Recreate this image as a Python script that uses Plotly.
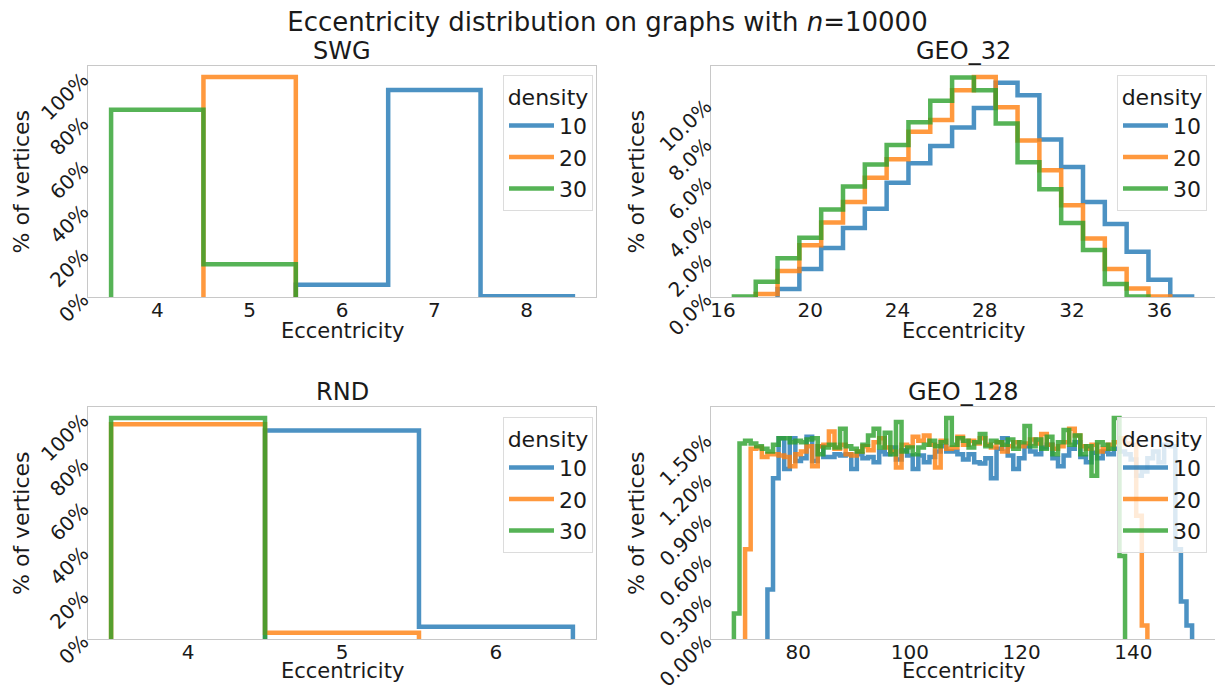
import plotly.graph_objects as go

W, H = 1215, 689

# ---------------- data (percent of vertices per eccentricity) ----------------
densities = ["10", "20", "30"]
colors = ["rgba(31,119,180,0.8)", "rgba(255,127,14,0.8)", "rgba(44,160,44,0.8)"]

# SWG
swg_ecc_10 = [6, 7, 8]
swg_pct_10 = [5.6, 94.1, 0.3]
swg_ecc_20 = [5]
swg_pct_20 = [100.0]
swg_ecc_30 = [4, 5]
swg_pct_30 = [85.1, 14.9]

# RND
rnd_ecc_10 = [5, 6]
rnd_pct_10 = [94.4, 5.6]
rnd_ecc_20 = [4, 5]
rnd_pct_20 = [97.2, 2.8]
rnd_ecc_30 = [4]
rnd_pct_30 = [100.0]

# GEO_32
geo32_ecc_10 = list(range(19, 38))
geo32_pct_10 = [0.41, 1.45, 2.53, 3.57, 4.56, 5.91, 6.92, 7.81, 8.77, 9.78,
                11.08, 10.44, 8.15, 6.72, 4.91, 3.78, 2.34, 0.89, 0.03]
geo32_ecc_20 = list(range(18, 37))
geo32_pct_20 = [0.15, 1.35, 2.68, 3.86, 4.91, 6.17, 7.13, 8.55, 9.16, 10.70,
                11.38, 9.81, 8.10, 6.56, 4.75, 3.03, 1.45, 0.44, 0.03]
geo32_ecc_30 = list(range(17, 36))
geo32_pct_30 = [0.02, 0.79, 2.00, 3.06, 4.53, 5.71, 6.85, 7.86, 9.04, 10.15,
                11.35, 10.70, 8.97, 6.97, 5.57, 3.83, 2.43, 0.67, 0.03]

# GEO_128
geo128_ecc_10 = list(range(75, 151))
geo128_pct_10 = [0.37, 1.20, 1.50, 1.27, 1.50, 1.33, 1.35, 1.51, 1.33, 1.44,
                 1.36, 1.36, 1.38, 1.37, 1.38, 1.27, 1.38, 1.35, 1.36, 1.32,
                 1.40, 1.38, 1.43, 1.34, 1.41, 1.37, 1.27, 1.37, 1.32, 1.36,
                 1.40, 1.44, 1.40, 1.40, 1.38, 1.34, 1.38, 1.32, 1.31, 1.35,
                 1.20, 1.42, 1.50, 1.37, 1.27, 1.35, 1.44, 1.40, 1.38, 1.43,
                 1.45, 1.35, 1.29, 1.37, 1.42, 1.47, 1.36, 1.32, 1.39, 1.35,
                 1.40, 1.38, 1.42, 1.40, 1.38, 1.34, 1.22, 1.25, 1.35, 1.40,
                 1.32, 1.45, 1.44, 0.67, 0.28, 0.10]
geo128_ecc_20 = list(range(71, 143))
geo128_pct_20 = [0.67, 1.42, 1.43, 1.36, 1.38, 1.38, 1.37, 1.36, 1.29, 1.38,
                 1.40, 1.44, 1.29, 1.44, 1.45, 1.55, 1.42, 1.45, 1.38, 1.37,
                 1.40, 1.44, 1.41, 1.47, 1.50, 1.43, 1.40, 1.28, 1.45, 1.44,
                 1.51, 1.48, 1.52, 1.45, 1.28, 1.48, 1.42, 1.43, 1.51, 1.45,
                 1.48, 1.46, 1.50, 1.45, 1.43, 1.47, 1.40, 1.44, 1.47, 1.44,
                 1.46, 1.49, 1.46, 1.53, 1.45, 1.42, 1.44, 1.47, 1.57, 1.52,
                 1.44, 1.42, 1.45, 1.40, 1.42, 1.45, 1.47, 1.50, 1.46, 1.45,
                 0.92, 0.10]
geo128_ecc_30 = list(range(69, 139))
geo128_pct_30 = [0.19, 1.46, 1.48, 1.46, 1.44, 1.42, 1.40, 1.45, 1.50, 1.50,
                 1.47, 1.48, 1.47, 1.49, 1.50, 1.38, 1.43, 1.45, 1.43, 1.57,
                 1.44, 1.42, 1.40, 1.45, 1.52, 1.57, 1.43, 1.54, 1.38, 1.62,
                 1.40, 1.43, 1.38, 1.43, 1.45, 1.48, 1.44, 1.47, 1.65, 1.45,
                 1.50, 1.48, 1.43, 1.47, 1.53, 1.44, 1.48, 1.47, 1.45, 1.49,
                 1.42, 1.47, 1.59, 1.44, 1.49, 1.42, 1.51, 1.38, 1.47, 1.56,
                 1.45, 1.52, 1.38, 1.44, 1.22, 1.47, 1.45, 1.42, 1.65, 0.62]

panels = [
    ("SWG", [(swg_ecc_10, swg_pct_10), (swg_ecc_20, swg_pct_20), (swg_ecc_30, swg_pct_30)]),
    ("GEO_32", [(geo32_ecc_10, geo32_pct_10), (geo32_ecc_20, geo32_pct_20), (geo32_ecc_30, geo32_pct_30)]),
    ("RND", [(rnd_ecc_10, rnd_pct_10), (rnd_ecc_20, rnd_pct_20), (rnd_ecc_30, rnd_pct_30)]),
    ("GEO_128", [(geo128_ecc_10, geo128_pct_10), (geo128_ecc_20, geo128_pct_20), (geo128_ecc_30, geo128_pct_30)]),
]

x_ticks = [[4, 5, 6, 7, 8], [16, 20, 24, 28, 32, 36], [4, 5, 6], [80, 100, 120, 140]]
y_ticks = [[0, 20, 40, 60, 80, 100], [0, 2, 4, 6, 8, 10], [0, 20, 40, 60, 80, 100],
           [0, 0.3, 0.6, 0.9, 1.2, 1.5]]
y_fmt = [".0f", ".1f", ".0f", ".2f"]


def step_xy(centers, values, width=1.0):
    xs = [centers[0] - width / 2] + [c - width / 2 for c in centers] + [centers[-1] + width / 2]
    ys = [0] + list(values) + [0]
    return xs, ys


# ---------------- layout geometry (pixels) ----------------
col_px = [(88, 596), (711, 1215)]
row_px = [(66, 297), (407, 639)]
xtitle_px = [331, 671]
ytitle_px = [21, 636]
fx = lambda p: p / W
fy = lambda p: 1 - p / H

fig = go.Figure()
font_fam = "DejaVu Sans"
txt = "#1a1a1a"

legend_names = ["legend", "legend2", "legend3", "legend4"]
for i, (name, series) in enumerate(panels):
    ax = "" if i == 0 else str(i + 1)
    for j, (ecc, pct) in enumerate(series):
        xs, ys = step_xy(ecc, pct)
        fig.add_trace(go.Scatter(
            x=xs, y=ys, mode="lines", line=dict(color=colors[j], width=4.5, shape="hv"),
            name=densities[j], xaxis="x" + ax, yaxis="y" + ax,
            legend=legend_names[i], hoverinfo="skip",
        ))

layout = dict(
    width=W, height=H, margin=dict(l=0, r=0, t=0, b=0),
    paper_bgcolor="white", plot_bgcolor="white",
    font=dict(family=font_fam, color=txt),
    showlegend=True,
    title=dict(text="Eccentricity distribution on graphs with <i>n</i>=10000",
               x=0.5, xanchor="center", y=1 - 22 / H, yanchor="middle",
               font=dict(size=26, color=txt)),
)

annotations = []
for i, (name, series) in enumerate(panels):
    r, c = divmod(i, 2)
    ax = "" if i == 0 else str(i + 1)
    x0, x1 = col_px[c]
    y0, y1 = row_px[r]
    xs_all = []
    ymax = 0
    for ecc, pct in series:
        xs_all += [ecc[0] - 0.5, ecc[-1] + 0.5]
        ymax = max(ymax, max(pct))
    xmin, xmax = min(xs_all), max(xs_all)
    pad = 0.05 * (xmax - xmin)
    layout["xaxis" + ax] = dict(
        domain=[fx(x0), fx(x1)], range=[xmin - pad, xmax + pad],
        anchor="y" + ax, tickvals=x_ticks[i], ticks="", showgrid=False, zeroline=False,
        showline=True, linecolor="#c8c8c8", linewidth=1.3, mirror=True,
        tickfont=dict(size=20, color=txt), ticklabelstandoff=-5,
        automargin=False,
    )
    layout["yaxis" + ax] = dict(
        domain=[fy(y1), fy(y0)], range=[0, ymax * 1.05],
        anchor="x" + ax, tickvals=y_ticks[i],
        ticktext=[format(v, y_fmt[i]) + "%" for v in y_ticks[i]],
        ticks="", showgrid=False, zeroline=False,
        showline=True, linecolor="#c8c8c8", linewidth=1.3, mirror=(c == 0),
        tickangle=-45, tickfont=dict(size=20, color=txt), ticklabeloverflow="allow",
        automargin=False,
    )
    annotations.append(dict(
        text=name, x=fx((x0 + x1) / 2), y=fy(y0), xref="paper", yref="paper",
        xanchor="center", yanchor="bottom", yshift=-1, showarrow=False,
        font=dict(size=24, color=txt),
    ))
    annotations.append(dict(
        text="Eccentricity", x=fx((x0 + x1) / 2), y=fy(xtitle_px[r]), xref="paper", yref="paper",
        xanchor="center", yanchor="middle", showarrow=False,
        font=dict(size=21, color=txt),
    ))
    annotations.append(dict(
        text="% of vertices", x=fx(ytitle_px[c]), y=fy((y0 + y1) / 2), xref="paper", yref="paper",
        xanchor="center", yanchor="middle", textangle=-90, showarrow=False,
        font=dict(size=22, color=txt),
    ))
    leg_right = [593, 1207][c]
    leg_top = [75, 417][r]
    layout[legend_names[i]] = dict(
        x=fx(leg_right), y=fy(leg_top), xanchor="right", yanchor="top",
        bgcolor="rgba(255,255,255,0.8)", bordercolor="#dcdcdc", borderwidth=1,
        font=dict(size=22, color=txt),
        title=dict(text="density", side="top center", font=dict(size=22, color=txt)),
        itemwidth=45, tracegroupgap=0,
    )

layout["annotations"] = annotations
fig.update_layout(**layout)
fig.write_html("out.html")
